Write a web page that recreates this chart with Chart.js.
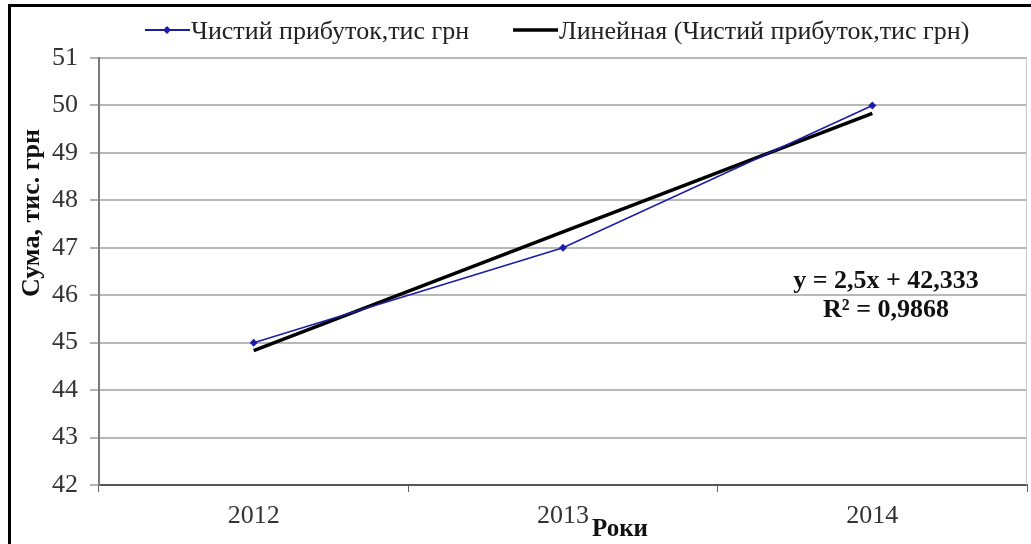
<!DOCTYPE html>
<html>
<head>
<meta charset="utf-8">
<script src="https://cdn.jsdelivr.net/npm/chart.js@4.4.0/dist/chart.umd.min.js"></script>
<style>
  html, body { margin: 0; padding: 0; background: #fff; overflow: hidden; }
  #wrap { position: absolute; left: 0; top: 0; width: 1031px; height: 544px; }
</style>
</head>
<body>
<div id="wrap"><canvas id="chart" width="1031" height="544"></canvas></div>
<script>
// data
const years = ['2012', '2013', '2014'];
const profit = [45, 47, 50];
const trend = [44.833, 47.333, 49.833];
const yTicks = [42, 43, 44, 45, 46, 47, 48, 49, 50, 51];
const seriesName = 'Чистий прибуток,тис грн';
const trendName = 'Линейная (Чистий прибуток,тис грн)';
const equation = ['y = 2,5x + 42,333', 'R² = 0,9868'];

const FONT = '"Liberation Serif", "Times New Roman", serif';
const BLUE = '#1c1ca6';

// frame, legend, titles and equation
const extras = {
  id: 'extras',
  afterDraw(chart) {
    const c = chart.ctx;
    const a = chart.chartArea;
    c.save();

    // outer frame (right and bottom sides fall outside the picture)
    c.strokeStyle = '#000';
    c.lineWidth = 3;
    c.beginPath();
    c.moveTo(9.5, 600);
    c.lineTo(9.5, 5.5);
    c.lineTo(1100, 5.5);
    c.stroke();

    // light right border of plot
    c.strokeStyle = '#c8c8c8';
    c.lineWidth = 1;
    c.beginPath();
    c.moveTo(a.right - 0.5, a.top);
    c.lineTo(a.right - 0.5, a.bottom);
    c.stroke();

    // legend
    c.font = '26px ' + FONT;
    c.textBaseline = 'middle';
    c.textAlign = 'left';
    c.strokeStyle = BLUE;
    c.lineWidth = 2;
    c.beginPath();
    c.moveTo(145, 30); c.lineTo(190, 30);
    c.stroke();
    c.fillStyle = BLUE;
    c.beginPath();
    c.moveTo(167, 26); c.lineTo(171, 30); c.lineTo(167, 34); c.lineTo(163, 30);
    c.closePath(); c.fill();
    c.fillStyle = '#222';
    c.fillText(seriesName, 191, 32);

    c.strokeStyle = '#000';
    c.lineWidth = 3.5;
    c.beginPath();
    c.moveTo(513, 30); c.lineTo(558, 30);
    c.stroke();
    c.fillText(trendName, 559, 32);

    // y axis title
    c.font = 'bold 26px ' + FONT;
    c.fillStyle = '#111';
    c.translate(32, 213);
    c.rotate(-Math.PI / 2);
    c.textAlign = 'center';
    c.fillText('Сума, тис. грн', 0, 0);
    c.setTransform(1, 0, 0, 1, 0, 0);

    // x axis title
    c.font = 'bold 25px ' + FONT;
    c.textAlign = 'center';
    c.fillText('Роки', 620, 530);

    // trend equation
    c.font = 'bold 26px ' + FONT;
    c.fillText(equation[0], 886, 281);
    c.fillText(equation[1], 886, 310);
    c.restore();
  }
};

new Chart(document.getElementById('chart'), {
  type: 'line',
  data: {
    labels: years,
    datasets: [
      {
        label: seriesName,
        data: profit,
        borderColor: BLUE,
        backgroundColor: BLUE,
        borderWidth: 1.5,
        pointStyle: 'rectRot',
        pointRadius: 4,
        pointBorderWidth: 0,
        tension: 0
      },
      {
        label: trendName,
        data: trend,
        borderColor: '#000',
        borderWidth: 3.5,
        pointRadius: 0,
        tension: 0
      }
    ]
  },
  options: {
    responsive: false,
    animation: false,
    events: [],
    layout: { padding: { left: 0, right: 0, top: 58, bottom: 0 } },
    plugins: { legend: { display: false }, tooltip: { enabled: false } },
    scales: {
      x: {
        offset: true,
        grid: { offset: true, drawOnChartArea: false, drawTicks: true, tickLength: 7, color: '#606060', lineWidth: 1 },
        border: { color: '#555', width: 2 },
        ticks: { font: { family: FONT, size: 26 }, color: '#333', padding: 9 },
        afterFit(s) { s.height = 59; }
      },
      y: {
        min: 42,
        max: 51,
        afterBuildTicks(s) { s.ticks = yTicks.map(v => ({ value: v })); },
        grid: { color: '#b8b8b8', lineWidth: 2, tickLength: 9, tickColor: '#666', tickWidth: 1 },
        border: { color: '#7a7a7a', width: 2 },
        ticks: { font: { family: FONT, size: 26 }, color: '#333', padding: 12 },
        afterFit(s) { s.width = 99; }
      }
    }
  },
  plugins: [extras]
});
</script>
</body>
</html>
